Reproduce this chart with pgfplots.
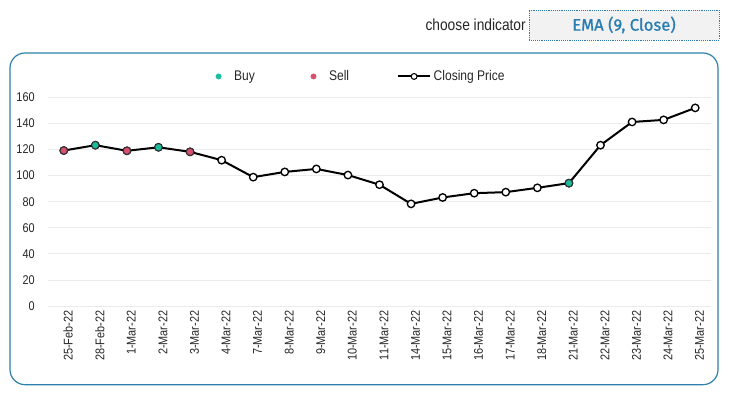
\documentclass[border=0pt]{standalone}
\usepackage{fontspec}
\setmainfont{Liberation Sans}[FakeStretch=0.86]
\newfontfamily\emafont{Fira Sans}[FakeBold=0.9]
\usepackage{pgfplots}
\usepackage{pgfplotstable}
\pgfplotsset{compat=1.18}
\definecolor{framecol}{HTML}{2E80A8}
\definecolor{emacol}{HTML}{2A7DB2}
\definecolor{buycol}{HTML}{1ABC9C}
\definecolor{sellcol}{HTML}{D94E6F}
\definecolor{gridcol}{HTML}{EBEBEB}
\definecolor{txtcol}{HTML}{262626}
\pgfplotsset{
  closelegend/.style={legend image code/.code={\draw[mark repeat=2, mark phase=2, ##1] plot coordinates {(0cm,0cm) (0.42cm,0cm) (0.84cm,0cm)};}},
  dotlegend/.style={legend image code/.code={\path[draw=none, fill=none] (0cm,0cm) -- (0.62cm,0cm); \draw[##1] plot coordinates {(0.28cm,0cm)};}}
}
\pgfplotstableread{
idx label close
0 25-Feb-22 119.2
1 28-Feb-22 123.3
2 1-Mar-22 119.0
3 2-Mar-22 121.7
4 3-Mar-22 118.2
5 4-Mar-22 111.8
6 7-Mar-22 98.8
7 8-Mar-22 102.8
8 9-Mar-22 105.1
9 10-Mar-22 100.4
10 11-Mar-22 93.0
11 14-Mar-22 78.3
12 15-Mar-22 83.2
13 16-Mar-22 86.5
14 17-Mar-22 87.3
15 18-Mar-22 90.6
16 21-Mar-22 94.2
17 22-Mar-22 123.3
18 23-Mar-22 141.1
19 24-Mar-22 142.7
20 25-Mar-22 151.9
}\closedata
\pgfplotstableread{
idx close
1 123.3
3 121.7
16 94.2
}\buydata
\pgfplotstableread{
idx close
0 119.2
2 119.0
4 118.2
}\selldata
\begin{document}
\begin{tikzpicture}
\path (0pt,0pt) rectangle (547.5pt,298.5pt);
% frame
\draw[framecol, line width=0.9pt, rounded corners=11.25pt] (7.5pt,10pt) rectangle (538.5pt,258.75pt);
% indicator selector
\node[anchor=east, inner sep=0pt, text=txtcol, font=\fontsize{12}{14}\selectfont] at (394.5pt,279.75pt) {choose indicator};
\draw[fill=black!5, draw=emacol, line width=0.6pt, dash pattern=on 0.7pt off 0.7pt] (396.75pt,268.5pt) rectangle (539.25pt,291pt);
\node[inner sep=0pt, text=emacol, font=\emafont\fontsize{12.5}{14}\selectfont] at (468pt,279.75pt) {EMA (9, Close)};
\begin{axis}[
  at={(36pt,69pt)}, anchor=south west,
  scale only axis, width=497.25pt, height=156.5pt,
  xmin=-0.5, xmax=20.5, ymin=0, ymax=160,
  axis line style={draw=none},
  xtick={0,...,20},
  xticklabels from table={\closedata}{label},
  ytick={0,20,...,160},
  /pgf/number format/assume math mode=true,
  major tick length=0pt,
  ymajorgrids, grid style={gridcol, line width=0.6pt},
  tick label style={text=txtcol, font=\fontsize{9.5}{11}\selectfont},
  xticklabel style={rotate=90, anchor=east, yshift=-3.3pt},
  yticklabel style={xshift=-6.5pt},
  legend columns=3,
  legend style={draw=none, fill=none, at={(0.467,1.10)}, anchor=center,
    font=\fontsize{10.5}{12}\selectfont, text=txtcol,
    /tikz/every even column/.append style={column sep=34pt}},
  clip=false,
]
\addplot[black, line width=1.5pt, mark=*, mark size=2.8pt,
  mark options={fill=white, draw=black, line width=1pt}, forget plot]
  table[x=idx, y=close] {\closedata};
\addplot[only marks, mark=*, mark size=2.8pt,
  mark options={fill=buycol, draw=black!80, line width=0.7pt}, forget plot]
  table[x=idx, y=close] {\buydata};
\addplot[only marks, mark=*, mark size=2.8pt,
  mark options={fill=sellcol, draw=black!80, line width=0.7pt}, forget plot]
  table[x=idx, y=close] {\selldata};
\addlegendimage{only marks, mark=*, mark size=2pt, mark options={fill=buycol, draw=buycol}, dotlegend}
\addlegendentry{Buy}
\addlegendimage{only marks, mark=*, mark size=2pt, mark options={fill=sellcol, draw=sellcol}, dotlegend}
\addlegendentry{Sell}
\addlegendimage{black, line width=1.5pt, mark=*, mark size=2.2pt,
  mark options={fill=white, draw=black, line width=0.8pt}, closelegend}
\addlegendentry{Closing Price}
\end{axis}
\end{tikzpicture}
\end{document}
